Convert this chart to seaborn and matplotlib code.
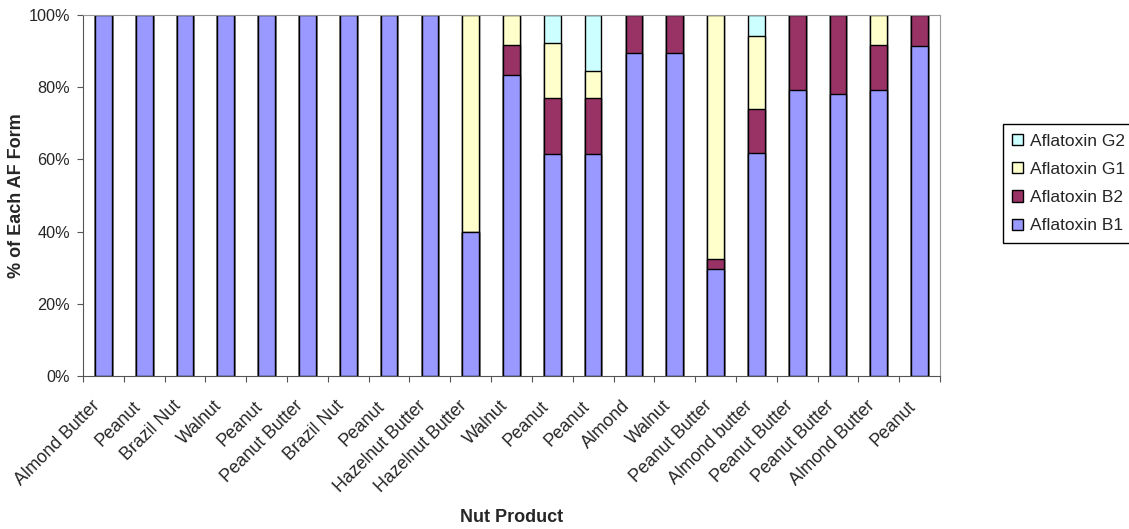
import pandas as pd
import matplotlib
matplotlib.use("Agg")
import matplotlib.pyplot as plt
from matplotlib.ticker import PercentFormatter, FixedLocator
from matplotlib.patches import Patch
from matplotlib.transforms import ScaledTranslation
import seaborn as sns

products = ["Almond Butter", "Peanut", "Brazil Nut", "Walnut", "Peanut",
            "Peanut Butter", "Brazil Nut", "Peanut", "Hazelnut Butter",
            "Hazelnut Butter", "Walnut", "Peanut", "Peanut", "Almond",
            "Walnut", "Peanut Butter", "Almond butter", "Peanut Butter",
            "Peanut Butter", "Almond Butter", "Peanut"]
b1 = [100, 100, 100, 100, 100, 100, 100, 100, 100, 40, 83.3, 61.5, 61.5,
      89.6, 89.6, 29.6, 61.8, 79.3, 78.1, 79.3, 91.4]
b2 = [0, 0, 0, 0, 0, 0, 0, 0, 0, 0, 8.3, 15.4, 15.4,
      10.4, 10.4, 2.7, 12.1, 20.7, 21.9, 12.5, 8.6]
g1 = [0, 0, 0, 0, 0, 0, 0, 0, 0, 60, 8.4, 15.4, 7.7,
      0, 0, 67.7, 20.3, 0, 0, 8.2, 0]
g2 = [0, 0, 0, 0, 0, 0, 0, 0, 0, 0, 0, 7.7, 15.4,
      0, 0, 0, 5.8, 0, 0, 0, 0]

series = ["Aflatoxin B1", "Aflatoxin B2", "Aflatoxin G1", "Aflatoxin G2"]
colors = {"Aflatoxin B1": "#9999FF", "Aflatoxin B2": "#993366",
          "Aflatoxin G1": "#FFFFCC", "Aflatoxin G2": "#CCFFFF"}

sns.set_style("white")
plt.rcParams["font.family"] = ["Liberation Sans", "DejaVu Sans"]

df = pd.DataFrame({"idx": range(len(products)), "product": products,
                   "Aflatoxin B1": b1, "Aflatoxin B2": b2,
                   "Aflatoxin G1": g1, "Aflatoxin G2": g2})

# cumulative tops, drawn from the top layer down so each covers the one before
cum = df[series].cumsum(axis=1)

fig = plt.figure(figsize=(11.29, 5.29), dpi=100)
ax = fig.add_axes([0.0735, 0.2892, 0.7591, 0.6824])

for name in reversed(series):
    sns.barplot(x=df["idx"], y=cum[name], color=colors[name], width=0.41,
                edgecolor="black", linewidth=1.0, saturation=1, ax=ax)

ax.set_ylim(0, 100)
ax.set_xlim(-0.5, len(products) - 0.5)
ax.yaxis.set_major_formatter(PercentFormatter(decimals=0))
ax.set_yticks([0, 20, 40, 60, 80, 100])

# tick marks between categories, labels near the bars
ax.xaxis.set_major_locator(FixedLocator([i - 0.5 for i in range(len(products) + 1)]))
ax.xaxis.set_minor_locator(FixedLocator(list(range(len(products)))))
ax.set_xticklabels([""] * (len(products) + 1))
ax.tick_params(axis="x", which="major", length=4.5, color="#555555", direction="out",
               bottom=True)
ax.tick_params(axis="x", which="minor", length=0, pad=8)
ax.tick_params(axis="y", length=4.5, color="#555555", direction="out", left=True,
               labelsize=11.7, pad=5)
ax.set_xticklabels(products, minor=True, rotation=45, ha="right",
                   rotation_mode="anchor", fontsize=12.8)
# nudge the rotated labels (after tick_params, which resets the transform)
shift = ScaledTranslation(-9 / 72, -7.5 / 72, fig.dpi_scale_trans)
for lab in ax.get_xticklabels(minor=True):
    lab.set_transform(lab.get_transform() + shift)

for side in ["top", "right"]:
    ax.spines[side].set_color("#999999")
for side in ["left", "bottom"]:
    ax.spines[side].set_color("#555555")

ax.set_xlabel("Nut Product", fontsize=13, fontweight="bold")
ax.set_ylabel("% of Each AF Form", fontsize=13, fontweight="bold")
ax.xaxis.set_label_coords(0.5, -0.392)
ax.xaxis.label.set_va("center")
ax.yaxis.set_label_coords(-0.077, 0.5)
ax.yaxis.label.set_va("center")

handles = [Patch(facecolor=colors[s], edgecolor="black", label=s)
           for s in reversed(series)]
ax.legend(handles=handles, loc="center left", bbox_to_anchor=(1.073, 0.533),
          borderaxespad=0, frameon=True, fancybox=False, edgecolor="black",
          fontsize=12.5, handlelength=0.6, handleheight=0.6, handletextpad=0.4,
          borderpad=0.57, labelspacing=0.75, framealpha=1)

fig.savefig("out.png", dpi=100)
